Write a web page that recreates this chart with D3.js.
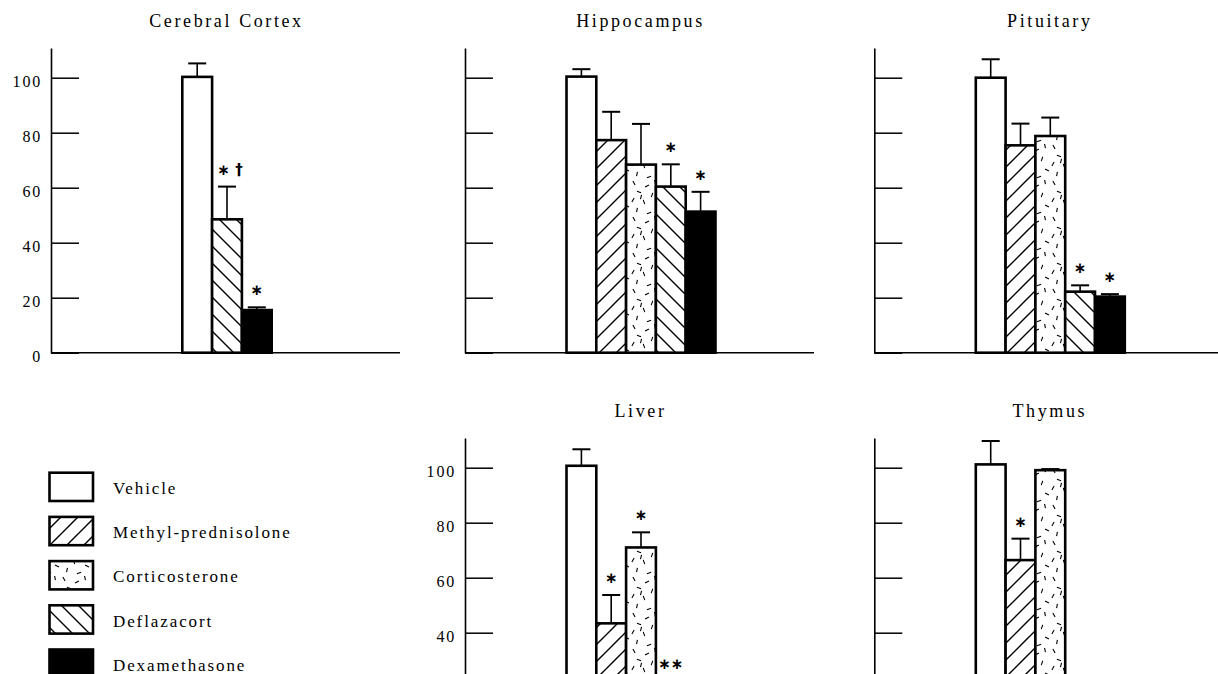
<!DOCTYPE html>
<html>
<head>
<meta charset="utf-8">
<script src="https://cdn.jsdelivr.net/npm/d3@7/dist/d3.min.js"></script>
<style>
  html, body { margin: 0; padding: 0; background: #fff; overflow: hidden; }
  svg { display: block; }
  text { font-family: "Liberation Serif", "Times New Roman", serif; fill: #000; }
</style>
</head>
<body>
<svg id="chart" width="1218" height="674"></svg>
<script>
// ---------------- data ----------------
const categories = ["Vehicle", "Methyl-prednisolone", "Corticosterone", "Deflazacort", "Dexamethasone"];
const panelTitles = ["Cerebral Cortex", "Hippocampus", "Pituitary", "Liver", "Thymus"];
const tickValues = [0, 20, 40, 60, 80, 100];

// values (% of vehicle), null = not measured
const cortexValues = [100.3, null, null, 48.5, 15.5];
const cortexErrors = [4.9, null, null, 11.9, 1.0];
const cortexMarks  = ["", "", "", "\u2217 \u2020", "\u2217"];

const hippocampusValues = [100.4, 77.3, 68.4, 60.4, 51.3];
const hippocampusErrors = [2.7, 10.3, 14.8, 8.1, 7.2];
const hippocampusMarks  = ["", "", "", "\u2217", "\u2217"];

const pituitaryValues = [100.0, 75.4, 78.8, 22.2, 20.4];
const pituitaryErrors = [6.7, 7.9, 6.7, 2.3, 0.9];
const pituitaryMarks  = ["", "", "", "\u2217", "\u2217"];

const liverValues = [100.7, 43.4, 71.0, 20.0, 15.0];
const liverErrors = [6.0, 10.3, 5.5, 2.4, 2.0];
const liverMarks  = ["", "\u2217", "\u2217", "\u2217\u2217", ""];

const thymusValues = [101.2, 66.4, 99.1, 10.0, 8.0];
const thymusErrors = [8.5, 7.8, 0.4, 2.0, 2.0];
const thymusMarks  = ["", "\u2217", "", "", ""];

// ---------------- layout ----------------
const W = 1218, H = 674;
const svg = d3.select("#chart");
const colAxisX = [51, 465, 874.3];
const rowBaseline = [352.7, 742.7];
const pxPerUnit = 2.75;
const yMax = 110.8;
const xAxisLen = 349;
const barW = 29.8;
const groupCenterOffset = 176;

const fills = ["#fff", "url(#hatchUp)", "url(#speckle)", "url(#hatchDown)", "#000"];

// ---------------- patterns ----------------
const defs = svg.append("defs");
const hs = 17;
const up = defs.append("pattern").attr("id", "hatchUp").attr("patternUnits", "userSpaceOnUse")
  .attr("width", hs).attr("height", hs);
up.append("rect").attr("width", hs).attr("height", hs).attr("fill", "#fff");
up.append("path").attr("d", `M0,${hs} L${hs},0 M-4,4 L4,-4 M${hs-4},${hs+4} L${hs+4},${hs-4}`)
  .attr("stroke", "#000").attr("stroke-width", 1.4);
const dn = defs.append("pattern").attr("id", "hatchDown").attr("patternUnits", "userSpaceOnUse")
  .attr("width", hs).attr("height", hs);
dn.append("rect").attr("width", hs).attr("height", hs).attr("fill", "#fff");
dn.append("path").attr("d", `M0,0 L${hs},${hs} M-4,${hs-4} L4,${hs+4} M${hs-4},-4 L${hs+4},4`)
  .attr("stroke", "#000").attr("stroke-width", 1.4);
const sp = defs.append("pattern").attr("id", "speckle").attr("patternUnits", "userSpaceOnUse")
  .attr("width", 30).attr("height", 36);
sp.append("rect").attr("width", 30).attr("height", 36).attr("fill", "#fff");
const dashes = [[4,3,60],[17,6,-30],[25,2,80],[9,12,20],[22,15,110],[3,20,-60],[14,22,70],[27,26,30],[7,30,100],[19,33,-20],[11,17,-75]];
dashes.forEach(([x, y, a]) => {
  const r = a * Math.PI / 180, l = 2.2;
  sp.append("line").attr("x1", x - l*Math.cos(r)).attr("y1", y - l*Math.sin(r))
    .attr("x2", x + l*Math.cos(r)).attr("y2", y + l*Math.sin(r))
    .attr("stroke", "#000").attr("stroke-width", 1.1);
});

// ---------------- panels ----------------
const panels = [
  { title: panelTitles[0], col: 0, row: 0, labels: true,  values: cortexValues, errors: cortexErrors, marks: cortexMarks },
  { title: panelTitles[1], col: 1, row: 0, labels: false, values: hippocampusValues, errors: hippocampusErrors, marks: hippocampusMarks },
  { title: panelTitles[2], col: 2, row: 0, labels: false, values: pituitaryValues, errors: pituitaryErrors, marks: pituitaryMarks },
  { title: panelTitles[3], col: 1, row: 1, labels: true,  values: liverValues, errors: liverErrors, marks: liverMarks },
  { title: panelTitles[4], col: 2, row: 1, labels: false, values: thymusValues, errors: thymusErrors, marks: thymusMarks }
];

panels.forEach(p => {
  const ax = colAxisX[p.col];
  const base = rowBaseline[p.row];
  const y = d3.scaleLinear().domain([0, yMax]).range([base, base - yMax * pxPerUnit]);
  const present = categories.filter((c, i) => p.values[i] !== null);
  const cx = ax + groupCenterOffset;
  const x = d3.scaleBand().domain(present)
    .range([cx - present.length * barW / 2, cx + present.length * barW / 2]).padding(0);

  const g = svg.append("g");

  // title
  g.append("text").attr("x", ax + 175.5).attr("y", base - 325.7)
    .attr("text-anchor", "middle").style("font-size", "18px").style("letter-spacing", "2.6px")
    .text(p.title);

  // y axis (labels only where they fall inside the picture)
  const yAxis = d3.axisLeft(y).tickValues(tickValues).tickSizeInner(-28).tickSizeOuter(0).tickPadding(9)
    .tickFormat(v => (p.labels && y(v) < H - 12) ? d3.format("d")(v) : "");
  const ya = g.append("g").attr("transform", `translate(${ax},0)`).call(yAxis);
  ya.select(".domain").attr("stroke", "#000").attr("stroke-width", 1.6);
  ya.selectAll(".tick line").attr("stroke", "#000").attr("stroke-width", 1.5);
  ya.selectAll(".tick text").attr("dy", "0.53em")
    .style("font-family", '"Liberation Serif", serif').style("font-size", "16px").style("letter-spacing", "1.8px");
  ya.selectAll(".tick text").filter(function () { return this.textContent === ""; }).remove();

  // x axis line
  g.append("line").attr("x1", ax).attr("x2", ax + xAxisLen).attr("y1", base).attr("y2", base)
    .attr("stroke", "#000").attr("stroke-width", 1.6);

  const rows = categories.map((c, i) => ({ c, i, v: p.values[i], e: p.errors[i], m: p.marks[i] }))
    .filter(d => d.v !== null);

  // error bars
  rows.forEach(d => {
    const bx = x(d.c) + x.bandwidth() / 2;
    g.append("line").attr("x1", bx).attr("x2", bx).attr("y1", y(d.v)).attr("y2", y(d.v + d.e))
      .attr("stroke", "#000").attr("stroke-width", 1.6);
    g.append("line").attr("x1", bx - 9).attr("x2", bx + 9).attr("y1", y(d.v + d.e)).attr("y2", y(d.v + d.e))
      .attr("stroke", "#000").attr("stroke-width", 2);
  });

  // bars
  g.selectAll("rect.bar").data(rows).join("rect").attr("class", "bar")
    .attr("x", d => x(d.c)).attr("width", x.bandwidth())
    .attr("y", d => y(d.v)).attr("height", d => base - y(d.v))
    .attr("fill", d => fills[d.i]).attr("stroke", "#000").attr("stroke-width", 2.6);

  // significance marks
  g.selectAll("text.mark").data(rows.filter(d => d.m)).join("text").attr("class", "mark")
    .attr("x", d => x(d.c) + x.bandwidth() / 2 + (d.m.length > 2 ? 3 : 0))
    .attr("y", d => y(d.v + d.e) - 17)
    .attr("text-anchor", "middle").attr("dominant-baseline", "central")
    .style("font-family", '"DejaVu Sans", sans-serif').style("font-size", "15px").style("font-weight", "bold")
    .text(d => d.m);
});

// ---------------- legend ----------------
const lg = svg.append("g");
categories.forEach((c, i) => {
  const top = 472.7 + i * 44.2;
  lg.append("rect").attr("x", 49.5).attr("y", top).attr("width", 43.5).attr("height", 28.3)
    .attr("fill", fills[i]).attr("stroke", "#000").attr("stroke-width", 2.6);
  lg.append("text").attr("x", 113).attr("y", top + 21.3)
    .style("font-size", "17px").style("letter-spacing", "1.9px").text(c);
});
</script>
</body>
</html>
